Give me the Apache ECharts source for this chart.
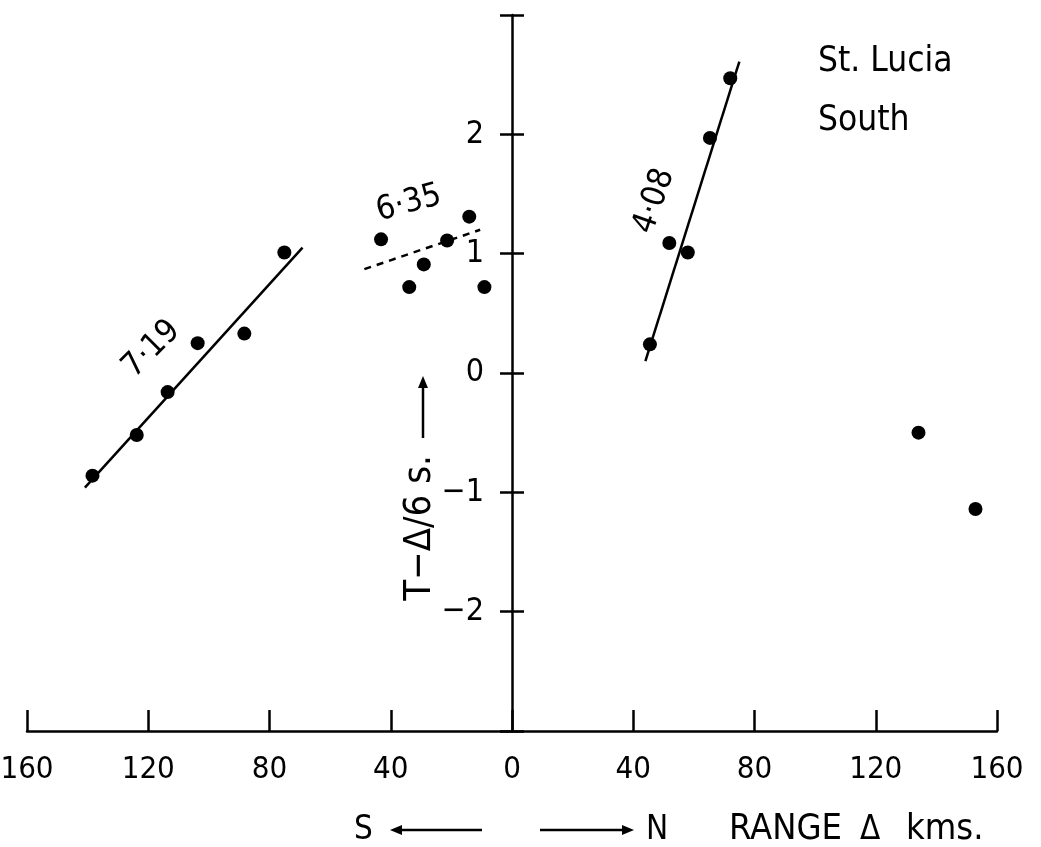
<!DOCTYPE html>
<html><head><meta charset="utf-8">
<script src="https://cdn.jsdelivr.net/npm/echarts@6/dist/echarts.min.js"></script>
<style>html,body{margin:0;padding:0;background:#fff}#c{width:1041px;height:847px}</style>
</head><body><div id="c"></div>
<script>
// ---- data ----
const xTickValues = [-160, -120, -80, -40, 0, 40, 80, 120, 160];
const yTickValues = [-2, -1, 0, 1, 2];

const southX = [-138.4, -123.8, -113.6, -103.7, -88.3, -75.1];
const southY = [-0.86, -0.52, -0.16, 0.25, 0.33, 1.01];

const midX = [-43.2, -33.9, -29.1, -21.4, -14.1, -9.1];
const midY = [1.12, 0.72, 0.91, 1.11, 1.31, 0.72];

const northX = [45.5, 51.9, 58.0, 65.3, 72.0];
const northY = [0.24, 1.09, 1.01, 1.97, 2.47];

const farX = [134.1, 152.9];
const farY = [-0.50, -1.14];

const fitSouthX = [-140.9, -69.1];
const fitSouthY = [-0.96, 1.05];
const fitMidX = [-48.7, -10.5];
const fitMidY = [0.87, 1.20];
const fitNorthX = [44.0, 75.0];
const fitNorthY = [0.10, 2.61];

const slopeLabels = ['7·19', '6·35', '4·08'];
const slopeLabelX = [-118.9, -34.0, 47.0];
const slopeLabelY = [0.20, 1.42, 1.44];
const slopeLabelRot = [45, 15, 71];

const stationLines = ['St. Lucia', 'South'];
const yAxisName = 'T−Δ/6 s.';
const xAxisWords = ['S', 'N', 'RANGE', 'Δ', 'kms.'];

// ---- chart ----
const W = 1041;
const GRID_L = 27, GRID_R = 44;
// x range is symmetric (-160..160), so x = 0 sits in the middle of the grid
const Y_AXIS_OFFSET = -(W - GRID_L - GRID_R) / 2;

const FONT = "'DejaVu Sans Condensed','DejaVu Sans',sans-serif";
const zip = (xs, ys) => xs.map((x, i) => [x, ys[i]]);
const fmtY = v => (Math.abs(v) > 2.5 ? '' : (v < 0 ? '−' + Math.abs(v) : String(v)));

const scatter = (d, size) => ({
  type: 'scatter', data: d, symbol: 'circle', symbolSize: size || 14,
  itemStyle: { color: '#000', opacity: 1 }, z: 5, silent: true
});
const fit = (d, type) => ({
  type: 'line', data: d, symbol: 'none',
  lineStyle: { color: '#000', width: 2.5, type: type || 'solid', opacity: 1 },
  z: 4, silent: true
});

const chart = echarts.init(document.getElementById('c'), null, { renderer: 'canvas' });
const arrow = (x1, y1, x2, y2) => {
  const ang = Math.atan2(y2 - y1, x2 - x1), L = 12, Wd = 5;
  const bx = x2 - L * Math.cos(ang), by = y2 - L * Math.sin(ang);
  const px = -Math.sin(ang) * Wd, py = Math.cos(ang) * Wd;
  return [
    { type: 'line', shape: { x1, y1, x2: bx, y2: by }, style: { stroke: '#000', lineWidth: 2.5 } },
    { type: 'polygon', shape: { points: [[x2, y2], [bx + px, by + py], [bx - px, by - py]] }, style: { fill: '#000' } }
  ];
};

const txt = (text, x, y, size, extra) => Object.assign({
  type: 'text', x, y,
  style: Object.assign({ text, fill: '#000', font: size + 'px ' + FONT, align: 'left', verticalAlign: 'middle' }, extra || {})
});

chart.setOption({
  backgroundColor: '#fff',
  animation: false,
  grid: { left: GRID_L, right: GRID_R, top: 15, bottom: 116, outerBoundsMode: 'none', containLabel: false },
  xAxis: {
    type: 'value', min: -160, max: 160, interval: 40,
    axisLine: { onZero: false, lineStyle: { color: '#000', width: 2.5 } },
    axisTick: { inside: true, length: 21, lineStyle: { color: '#000', width: 2.5 } },
    axisLabel: { color: '#000', fontSize: 31, fontFamily: FONT, margin: 23,
      formatter: v => xTickValues.includes(v) ? String(Math.abs(v)) : '' },
    splitLine: { show: false }
  },
  yAxis: [{
    type: 'value', min: -3, max: 3, interval: 1, position: 'left', offset: Y_AXIS_OFFSET,
    axisLine: { onZero: false, lineStyle: { color: '#000', width: 2.5 } },
    axisTick: { inside: false, length: 12, lineStyle: { color: '#000', width: 2.5 } },
    axisLabel: { color: '#000', fontSize: 32, fontFamily: FONT, margin: 28,
      formatter: v => yTickValues.includes(v) ? fmtY(v) : '' },
    splitLine: { show: false }
  }, {
    type: 'value', min: -3, max: 3, interval: 1, position: 'left', offset: Y_AXIS_OFFSET,
    axisLine: { show: false, onZero: false },
    axisTick: { inside: true, length: 12, lineStyle: { color: '#000', width: 2.5 } },
    axisLabel: { show: false },
    splitLine: { show: false }
  }],
  series: [
    fit(zip(fitSouthX, fitSouthY)),
    fit(zip(fitMidX, fitMidY), [7, 6]),
    fit(zip(fitNorthX, fitNorthY)),
    scatter(zip(southX, southY)),
    scatter(zip(midX, midY)),
    scatter(zip(northX, northY)),
    scatter(zip(farX, farY)),
    {
      type: 'scatter', symbolSize: 0, silent: true, z: 6,
      itemStyle: { opacity: 1 },
      data: slopeLabels.map((n, i) => ({
        name: n, value: [slopeLabelX[i], slopeLabelY[i]],
        label: { rotate: slopeLabelRot[i] }
      })),
      label: { show: true, position: 'inside', formatter: p => p.name, color: '#000', opacity: 1,
        fontSize: 33, fontFamily: FONT }
    }
  ],
  graphic: [
    txt(stationLines[0], 818, 62, 35),
    txt(stationLines[1], 818, 121, 35),
    Object.assign(txt(yAxisName, 420, 528, 38, { align: 'center' }), { rotation: Math.PI / 2 }),
    ...arrow(423, 438, 423, 376),
    txt(xAxisWords[0], 354, 830, 33),
    ...arrow(482, 830, 390, 830),
    ...arrow(540, 830, 634, 830),
    txt(xAxisWords[1], 646, 830, 33),
    txt(xAxisWords[2], 729, 830, 36),
    txt(xAxisWords[3], 860, 830, 33),
    txt(xAxisWords[4], 906, 830, 36)
  ]
});
</script></body></html>
